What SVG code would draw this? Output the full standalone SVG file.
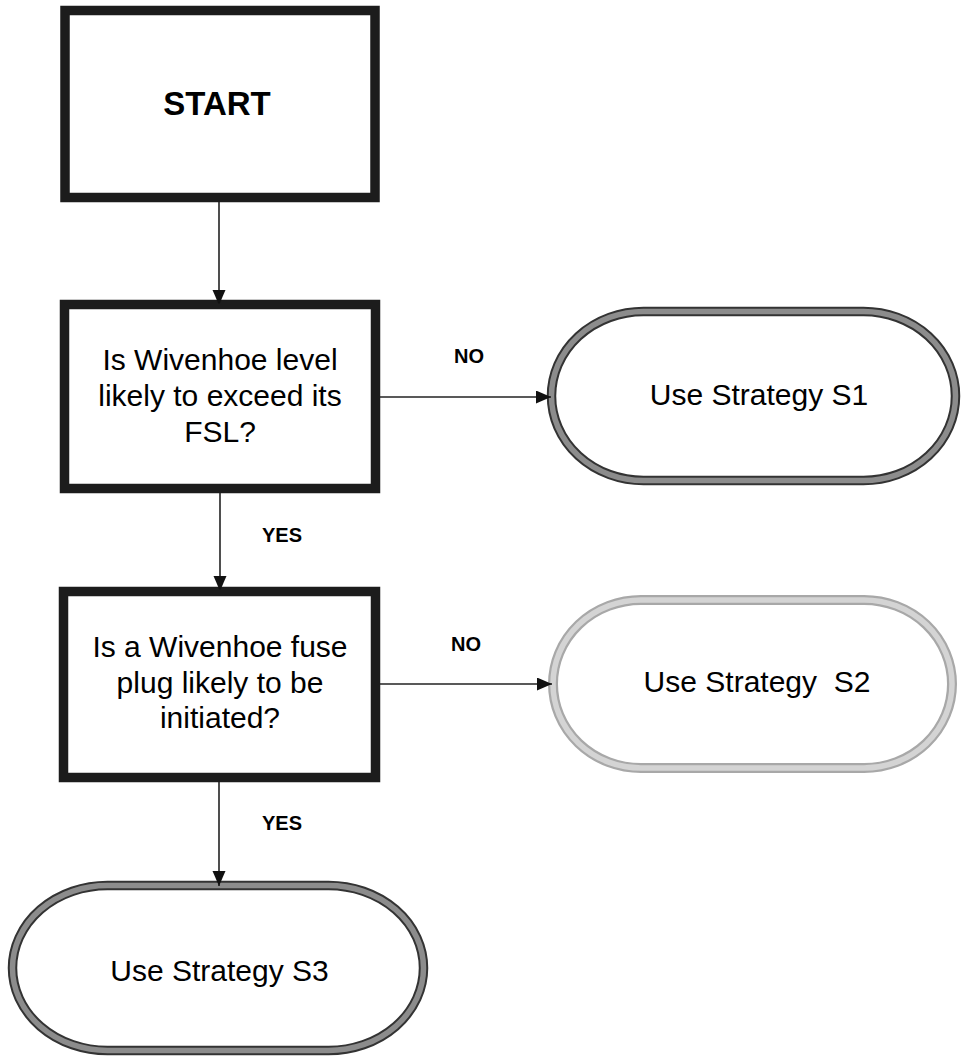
<svg xmlns="http://www.w3.org/2000/svg" width="961" height="1058" viewBox="0 0 961 1058">
<style>
text{font-family:"Liberation Sans",Arial,sans-serif;fill:#000;text-anchor:middle}
.box{fill:#fff;stroke:#1c1c1c;stroke-width:9.5}
.q{font-size:30px}
.lbl{font-size:20px;font-weight:bold}
.conn{stroke:#222;stroke-width:1.6;fill:none}
.termA{fill:#fff;stroke:#333;stroke-width:9.5}
.termAi{fill:none;stroke:#8c8c8c;stroke-width:5.5}
.termB{fill:#fff;stroke:#a8a8a8;stroke-width:10}
.termBi{fill:none;stroke:#d4d4d4;stroke-width:5.5}
</style>
<defs>
<marker id="ah" markerUnits="userSpaceOnUse" markerWidth="16" markerHeight="14" refX="15" refY="6.5" orient="auto">
<path d="M0,0 L15,6.5 L0,13 z" fill="#111"/>
</marker>
</defs>
<g id="start">
<rect class="box" x="65" y="10.5" width="310" height="187"/>
<text x="217" y="115" style="font-size:33px;font-weight:bold">START</text>
</g>
<g id="decision1">
<rect class="box" x="64.5" y="304.5" width="311" height="184"/>
<text class="q" x="220" y="370">Is Wivenhoe level</text>
<text class="q" x="220" y="406">likely to exceed its</text>
<text class="q" x="220" y="442">FSL?</text>
</g>
<g id="decision2">
<rect class="box" x="63.5" y="591.5" width="312" height="186"/>
<text class="q" x="220" y="657">Is a Wivenhoe fuse</text>
<text class="q" x="220" y="693">plug likely to be</text>
<text class="q" x="220" y="728">initiated?</text>
</g>
<g id="s1">
<rect class="termA" x="551.5" y="311.5" width="404" height="169" rx="92" ry="84.5"/>
<rect class="termAi" x="551.5" y="311.5" width="404" height="169" rx="92" ry="84.5"/>
<text class="q" x="759" y="405">Use Strategy S1</text>
</g>
<g id="s2">
<rect class="termB" x="553" y="600" width="399" height="168" rx="88" ry="84"/>
<rect class="termBi" x="553" y="600" width="399" height="168" rx="88" ry="84"/>
<text class="q" x="757" y="692" xml:space="preserve" style="white-space:pre">Use Strategy  S2</text>
</g>
<g id="s3">
<rect class="termA" x="12.5" y="885.5" width="411" height="165" rx="95" ry="82.5"/>
<rect class="termAi" x="12.5" y="885.5" width="411" height="165" rx="95" ry="82.5"/>
<text class="q" x="219.5" y="981">Use Strategy S3</text>
</g>
<g id="connectors">
<line class="conn" x1="219" y1="202" x2="219" y2="305" marker-end="url(#ah)"/>
<line class="conn" x1="220" y1="493" x2="220" y2="591" marker-end="url(#ah)"/>
<line class="conn" x1="219" y1="782" x2="219" y2="886" marker-end="url(#ah)"/>
<line class="conn" x1="380" y1="397" x2="551" y2="397" marker-end="url(#ah)"/>
<line class="conn" x1="380" y1="684" x2="552" y2="684" marker-end="url(#ah)"/>
<text class="lbl" x="469" y="363">NO</text>
<text class="lbl" x="466" y="651">NO</text>
<text class="lbl" x="282" y="542">YES</text>
<text class="lbl" x="282" y="830">YES</text>
</g>
</svg>
